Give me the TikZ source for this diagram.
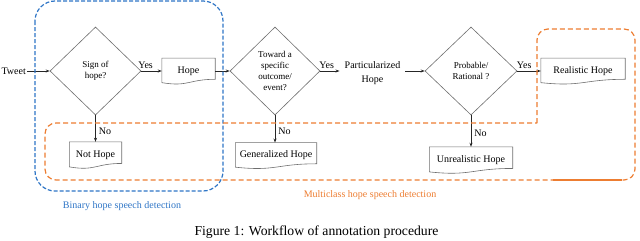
\documentclass[tikz,border=0pt]{standalone}
\usepackage{fontspec}
\setmainfont{Liberation Serif}
\usetikzlibrary{shapes.geometric,arrows.meta,calc}
\definecolor{bblue}{HTML}{2E75C6}
\definecolor{oorange}{HTML}{ED7D31}
\definecolor{shapegray}{HTML}{6E6E6E}
\newcommand\docoutline[1]{%
  \draw[docline] (#1.north west) -- (#1.north east) -- ($(#1.north east)!0.82!(#1.south east)$)
    .. controls ($(#1.north)!0.82!(#1.south)$) and ($(#1.north)!1.12!(#1.south)$) ..
    ($(#1.north west)!0.95!(#1.south west)$) -- cycle;}
\begin{document}
\begin{tikzpicture}[x=1pt,y=-1pt,
  dia/.style={diamond, draw=shapegray, line width=0.6pt, inner sep=0pt, align=center, font=\fontsize{9}{11}\selectfont},
  docnode/.style={rectangle, inner sep=0pt, align=center, font=\fontsize{10}{12}\selectfont},
  docline/.style={draw=shapegray, line width=0.6pt},
  txt/.style={font=\fontsize{10}{12}\selectfont, align=center},
  arr/.style={-{Stealth[length=4pt,width=3pt]}, line width=0.7pt, draw=black!85},
  lbl/.style={font=\fontsize{10}{12}\selectfont, inner sep=2.5pt},
  bluebox/.style={draw=bblue, line width=1.2pt, dash pattern=on 4pt off 2pt, rounded corners=20pt},
  orangebox/.style={draw=oorange, line width=1.2pt, dash pattern=on 5pt off 3pt, rounded corners=11pt},
]
\useasboundingbox (0,0) rectangle (640,241);

\node[txt, anchor=east, inner sep=1pt] (tweet) at (27,71) {Tweet};
\node[dia, minimum width=91pt, minimum height=88pt] (d1) at (95.5,71) {Sign of\\hope?};
\node[docnode, minimum width=53pt, minimum height=25.5pt] (hope) at (188.5,71) {Hope};
\node[dia, minimum width=90pt, minimum height=88pt] (d2) at (275,71) {Toward a\\specific\\outcome/\\event?};
\node[txt, inner sep=5pt, font=\fontsize{10}{13.5}\selectfont] (partic) at (372.5,73) {Particularized\\Hope};
\node[dia, minimum width=92pt, minimum height=88pt] (d3) at (471,71) {Probable/\\Rational ?};
\node[docnode, minimum width=84pt, minimum height=25.5pt] (real) at (583,71) {Realistic Hope};
\node[docnode, minimum width=52pt, minimum height=26pt] (nothope) at (95.5,155) {Not Hope};
\node[docnode, minimum width=81pt, minimum height=25.5pt] (gen) at (276,155.5) {Generalized Hope};
\node[docnode, minimum width=83pt, minimum height=26pt] (unreal) at (471,160) {Unrealistic Hope};

\docoutline{hope}
\docoutline{real}
\docoutline{nothope}
\docoutline{gen}
\docoutline{unreal}

\draw[arr] (tweet.east) -- (d1.west);
\draw[arr] (d1.east) -- node[lbl, pos=0.21, above] {Yes} (hope.west);
\draw[arr] (hope.east) -- (d2.west);
\draw[arr] (d2.east) -- node[lbl, pos=0.33, above] {Yes} (d2.east -| partic.west);
\draw[arr] (partic.east |- d3.west) -- (d3.west);
\draw[arr] (d3.east) -- node[lbl, pos=0.29, above] {Yes} (real.west);
\draw[arr] (d1.south) -- node[lbl, pos=0.62, right, inner sep=3pt] {No} (nothope.north);
\draw[arr] (d2.south) -- node[lbl, pos=0.6, right, inner sep=3pt] {No} (d2.south |- gen.north);
\draw[arr] (d3.south) -- node[lbl, pos=0.58, right, inner sep=3pt] {No} (unreal.north);

\draw[bluebox] (35,1) rectangle (223,191);
\draw[orangebox] (537,123) -- (537,29) -- (635,29) -- (635,180) -- (45,180) -- (45,123) -- (537,123);
\draw[oorange, line width=1.2pt] (553,180) -- (622,180);

\node[txt, text=bblue] (binlbl) at (122,206) {Binary hope speech detection};
\node[txt, text=oorange] (multilbl) at (370,195) {Multiclass hope speech detection};
\node[font=\fontsize{13.7}{16}\selectfont] (caption) at (316.5,232) {Figure 1: Workflow of annotation procedure};
\end{tikzpicture}
\end{document}
